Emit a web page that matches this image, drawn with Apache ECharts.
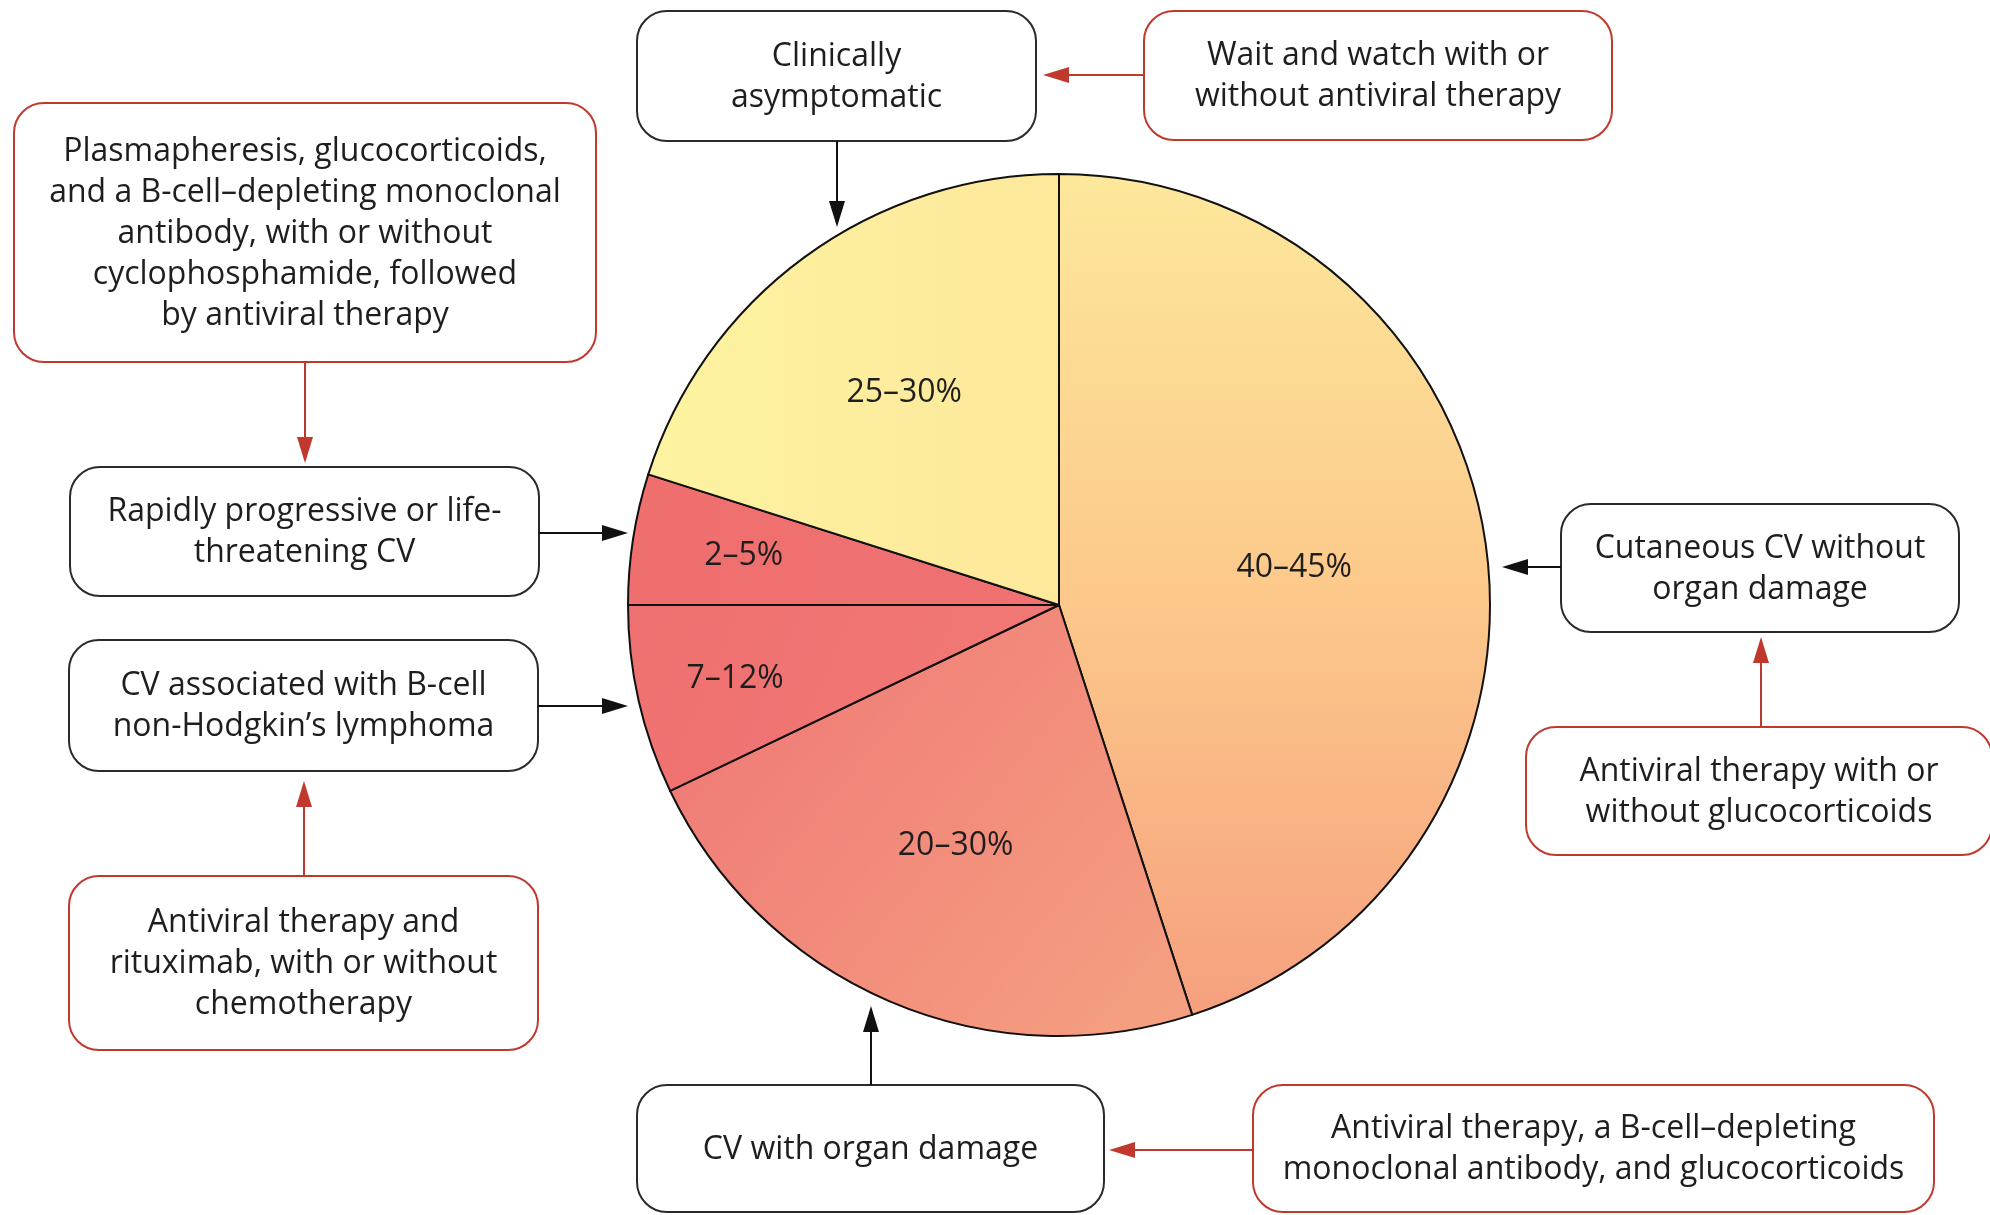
<!DOCTYPE html>
<html>
<head>
<meta charset="utf-8">
<script src="https://cdn.jsdelivr.net/npm/echarts@6/dist/echarts.min.js"></script>
<style>
html, body { margin: 0; padding: 0; background: #fff; }
#main { width: 1990px; height: 1215px; }
</style>
</head>
<body>
<div id="main"></div>
<script>
// slice data, clockwise from 12 o'clock
var groups = ['Cutaneous CV without organ damage', 'CV with organ damage',
  'CV associated with B-cell non-Hodgkin\u2019s lymphoma', 'Rapidly progressive or life-threatening CV',
  'Clinically asymptomatic'];
var shareLabels = ['40\u201345%', '20\u201330%', '7\u201312%', '2\u20135%', '25\u201330%'];
var shareValues = [45.0, 22.9, 7.1, 4.9, 20.1];

var FONT = '"Open Sans"';
var FSIZE = 32;
var RED = '#c0392f';
var INK = '#1e1e1e';
var cx = 1059, cy = 605, R = 431;
// where each label sits along its slice, as a share of the radius
var labelRadius = [0.545, 0.6, 0.76, 0.73, 0.6];

var sliceColors = [
  [[0, '#fde89c'], [0.5, '#fcc98b'], [1, '#f6a07e'], 0, 0, 0, 1],
  [[0, '#ef7575'], [1, '#f5a281'], 0, 0, 1, 1],
  [[0, '#ef7070'], [1, '#f17a76'], 0, 0, 1, 1],
  [[0, '#ef6f6f'], [1, '#f07171'], 0, 0, 1, 0],
  [[0, '#fdf3a1'], [1, '#fde89b'], 0, 0, 1, 0]
];

function grad(c) {
  var stops = c.filter(function (s) { return Array.isArray(s); })
    .map(function (s) { return { offset: s[0], color: s[1] }; });
  var xy = c.filter(function (s) { return !Array.isArray(s); });
  return new echarts.graphic.LinearGradient(xy[0], xy[1], xy[2], xy[3], stops);
}

// annotation boxes: [x, y, w, h, red?, text]
var boxes = [
  [637, 11, 399, 130, false, 'Clinically\nasymptomatic'],
  [1144, 11, 468, 129, true, 'Wait and watch with or\nwithout antiviral therapy'],
  [14, 103, 582, 259, true, 'Plasmapheresis, glucocorticoids,\nand a B-cell\u2013depleting monoclonal\nantibody, with or without\ncyclophosphamide, followed\nby antiviral therapy'],
  [70, 467, 469, 129, false, 'Rapidly progressive or life-\nthreatening CV'],
  [69, 640, 469, 131, false, 'CV associated with B-cell\nnon-Hodgkin\u2019s lymphoma'],
  [69, 876, 469, 174, true, 'Antiviral therapy and\nrituximab, with or without\nchemotherapy'],
  [637, 1085, 467, 127, false, 'CV with organ damage'],
  [1253, 1085, 681, 127, true, 'Antiviral therapy, a B-cell\u2013depleting\nmonoclonal antibody, and glucocorticoids'],
  [1561, 504, 398, 128, false, 'Cutaneous CV without\norgan damage'],
  [1526, 727, 466, 128, true, 'Antiviral therapy with or\nwithout glucocorticoids']
];

// arrows: [x1, y1, tipX, tipY, red?]
var arrows = [
  [837, 141, 837, 227, false],
  [1144, 75, 1043, 75, true],
  [305, 362, 305, 463, true],
  [539, 533, 628, 533, false],
  [538, 706, 628, 706, false],
  [304, 876, 304, 781, true],
  [871, 1085, 871, 1006, false],
  [1253, 1150, 1109, 1150, true],
  [1561, 567, 1502, 567, false],
  [1761, 727, 1761, 637, true]
];

var graphics = [];
boxes.forEach(function (b) {
  graphics.push({
    type: 'rect',
    shape: { x: b[0], y: b[1], width: b[2], height: b[3], r: 30 },
    style: { fill: '#fff', stroke: b[4] ? RED : '#2a2a2a', lineWidth: 2 }
  });
  graphics.push({
    type: 'text',
    x: b[0] + b[2] / 2,
    y: b[1] + b[3] / 2 + 1,
    style: {
      text: b[5], fill: INK, font: FSIZE + 'px ' + FONT,
      align: 'center', verticalAlign: 'middle', lineHeight: 41
    }
  });
});
arrows.forEach(function (a) {
  var col = a[4] ? RED : '#111';
  var dx = a[2] - a[0], dy = a[3] - a[1];
  var len = Math.sqrt(dx * dx + dy * dy);
  var ux = dx / len, uy = dy / len;
  var hl = 26, hw = 8;
  var bx = a[2] - ux * hl, by = a[3] - uy * hl;
  graphics.push({
    type: 'line',
    shape: { x1: a[0], y1: a[1], x2: bx, y2: by },
    style: { stroke: col, lineWidth: 2 }
  });
  graphics.push({
    type: 'polygon',
    shape: { points: [[a[2], a[3]], [bx - uy * hw, by + ux * hw], [bx + uy * hw, by - ux * hw]] },
    style: { fill: col }
  });
});

var myChart = echarts.init(document.getElementById('main'));
var option = {
  backgroundColor: '#fff',
  animation: false,
  graphic: graphics,
  series: [{
    type: 'pie',
    center: [cx, cy],
    radius: R,
    startAngle: 90,
    clockwise: true,
    silent: true,
    avoidLabelOverlap: false,
    itemStyle: { borderColor: '#111', borderWidth: 2 },
    label: {
      show: true,
      position: 'inside',
      color: INK,
      fontFamily: 'Open Sans',
      fontSize: FSIZE,
      formatter: function (p) { return shareLabels[p.dataIndex]; }
    },
    labelLine: { show: false },
    labelLayout: function (p) {
      var k = labelRadius[p.dataIndex] / 0.5 - 1;
      var lx = p.labelRect.x + p.labelRect.width / 2;
      var ly = p.labelRect.y + p.labelRect.height / 2;
      return { dx: (lx - cx) * k, dy: (ly - cy) * k };
    },
    emphasis: { disabled: true },
    data: shareValues.map(function (v, i) {
      return { name: groups[i], value: v, itemStyle: { color: grad(sliceColors[i]) } };
    })
  }]
};
myChart.setOption(option);
</script>
</body>
</html>
